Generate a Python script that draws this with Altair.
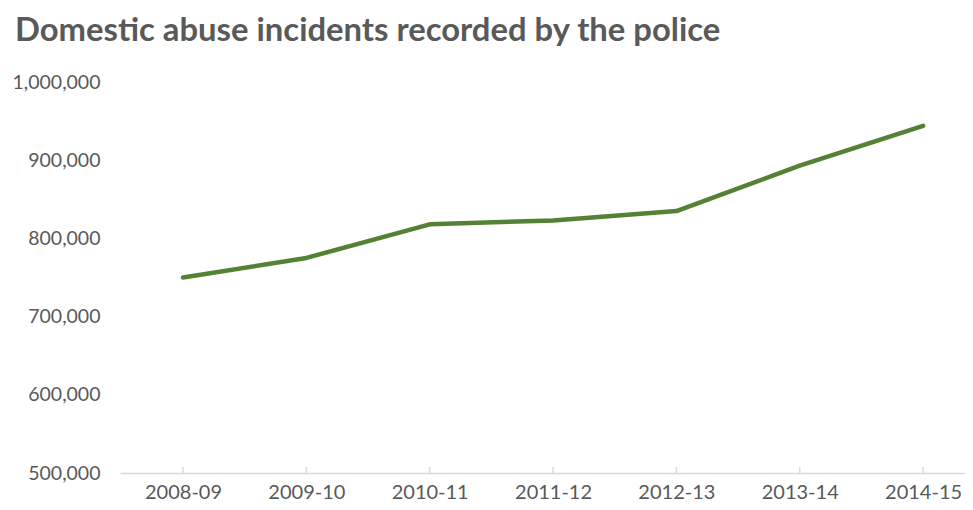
import altair as alt
import pandas as pd

years = ["2008-09", "2009-10", "2010-11", "2011-12", "2012-13", "2013-14", "2014-15"]
incidents = [750000, 775000, 818000, 823000, 835000, 893000, 944000]
y_ticks = [500000, 600000, 700000, 800000, 900000, 1000000]

df = pd.DataFrame({"year": years, "pos": list(range(len(years))), "incidents": incidents})

W, H = 845, 391
FONT = "Lato"
GREY = "#595959"

year_lookup = "[" + ",".join("'" + y + "'" for y in years) + "][datum.value]"
xscale = alt.Scale(domain=[-0.511, 6.340], nice=False, zero=False)

line = alt.Chart(df).mark_line(color="#548235", strokeWidth=4.5, strokeCap="round", strokeJoin="round").encode(
    x=alt.X("pos:Q", scale=xscale,
            axis=alt.Axis(title=None, values=list(range(len(years))), labelExpr=year_lookup, labelAngle=0,
                          labelAlign="center", labelOverlap=False, labelFlush=False, grid=False, ticks=False,
                          domainColor="#d9d9d9", domainWidth=1.5, labelFont=FONT, labelFontSize=20,
                          labelColor=GREY, labelPadding=9)),
    y=alt.Y("incidents:Q", scale=alt.Scale(domain=[500000, 1000000], nice=False, zero=False),
            axis=alt.Axis(title=None, values=y_ticks, labelExpr="format(datum.value, ',')",
                          labelOverlap=False, labelFlush=False, grid=False, domain=False, ticks=False,
                          labelFont=FONT, labelFontSize=19.5, labelColor=GREY, labelPadding=20)),
)

ticks = alt.Chart(df).mark_rule(color="#d9d9d9", strokeWidth=1.5).encode(
    x=alt.X("pos:Q", scale=xscale),
    y=alt.value(H - 6),
    y2=alt.value(H),
)

chart = alt.layer(ticks, line).properties(
    width=W, height=H,
    autosize=alt.AutoSizeParams(type="none"),
    padding={"left": 112, "top": 74, "right": 0, "bottom": 29},
    title=alt.TitleParams("Domestic abuse incidents recorded by the police", anchor="start", frame="group",
                          font=FONT, fontSize=32.8, fontWeight="bold", color=GREY, dx=-105, offset=24),
).configure_view(stroke=None)

chart.save("out.html", embed_options={"renderer": "svg", "actions": False})
